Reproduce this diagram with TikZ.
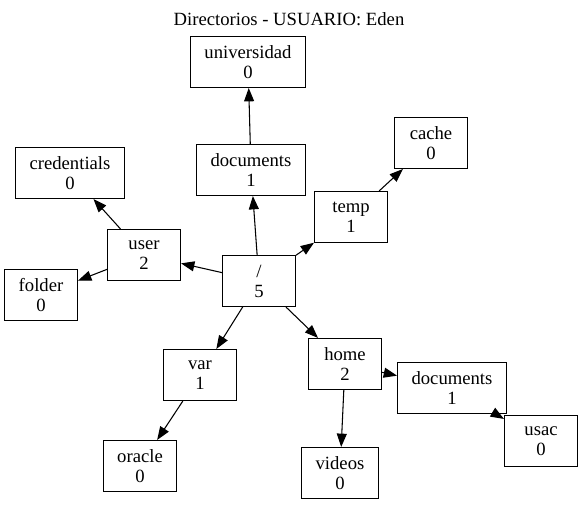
\documentclass[tikz,border=0pt]{standalone}
\usepackage{fontspec}
\setmainfont{Liberation Serif}
\usetikzlibrary{arrows.meta}

\tikzset{
  dir/.style={draw, rectangle, line width=0.8pt, align=center, inner xsep=10.5pt,
    minimum width=54.75pt, minimum height=38.25pt},
}

\begin{document}
\begin{tikzpicture}[>={Triangle[length=10pt, width=7.5pt]}, x=0.75pt, y=-0.75pt,
  font=\fontsize{14}{15}\selectfont]
\useasboundingbox (0,0) rectangle (579,505);
\node (title) at (289,19) {Directorios - USUARIO: Eden};
%
\node[dir] (root) at (259,281) {/\\5};
\node[dir] (docs) at (251,170) {documents\\1};
\node[dir] (univ) at (248,62) {universidad\\0};
\node[dir] (temp) at (351,217) {temp\\1};
\node[dir] (cache) at (431,143) {cache\\0};
\node[dir] (usr) at (144,255) {user\\2};
\node[dir] (cred) at (70,173) {credentials\\0};
\node[dir] (folder) at (41,295) {folder\\0};
\node[dir] (var) at (200,375) {var\\1};
\node[dir] (oracle) at (140,466) {oracle\\0};
\node[dir] (home) at (345,364) {home\\2};
\node[dir] (hdocs) at (452,388) {documents\\1};
\node[dir] (usac) at (541,441) {usac\\0};
\node[dir] (videos) at (340,473) {videos\\0};
%
\draw[->, line width=0.8pt] (root) -- (docs);
\draw[->, line width=0.8pt] (docs) -- (univ);
\draw[->, line width=0.8pt] (root) -- (temp);
\draw[->, line width=0.8pt] (temp) -- (cache);
\draw[->, line width=0.8pt] (root) -- (usr);
\draw[->, line width=0.8pt] (usr) -- (cred);
\draw[->, line width=0.8pt] (usr) -- (folder);
\draw[->, line width=0.8pt] (root) -- (var);
\draw[->, line width=0.8pt] (var) -- (oracle);
\draw[->, line width=0.8pt] (root) -- (home);
\draw[->, line width=0.8pt] (home) -- (hdocs);
\draw[->, line width=0.8pt] (hdocs) -- (usac);
\draw[->, line width=0.8pt] (home) -- (videos);
\end{tikzpicture}
\end{document}
